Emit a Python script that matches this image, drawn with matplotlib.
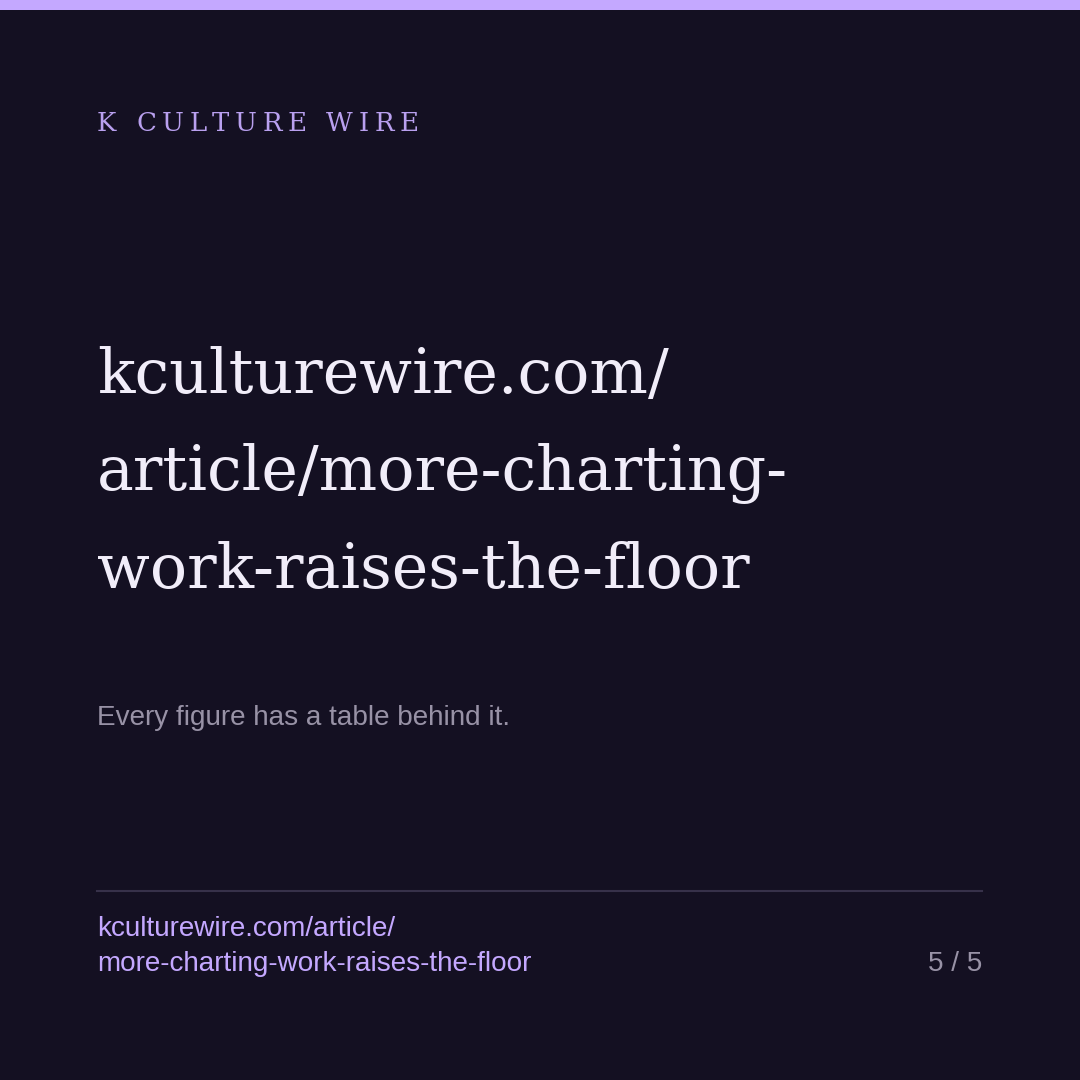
import matplotlib
matplotlib.use("Agg")
import matplotlib.pyplot as plt
from matplotlib.lines import Line2D
from matplotlib.patches import Rectangle

# Card content
brand = "K CULTURE WIRE"
title_lines = ["kculturewire.com/", "article/more-charting-", "work-raises-the-floor"]
subtitle = "Every figure has a table behind it."
footer_lines = ["kculturewire.com/article/", "more-charting-work-raises-the-floor"]
page_label = "5 / 5"

# Colours
BG = "#141022"
ACCENT = "#c4a8ff"
BRAND = "#b9a0ef"
TITLE = "#f1edf9"
MUTED = "#9892a6"
RULE = "#37314a"

W = H = 1080
fig = plt.figure(figsize=(10.8, 10.8), dpi=100, facecolor=BG)


def px(x, y):
    # pixel coords (top-left origin) -> figure fraction
    return x / W, 1 - y / H


def pt(size_px):
    return size_px * 72 / 100


# top accent bar
fig.patches.append(Rectangle(px(0, 10), 1, 10 / H, transform=fig.transFigure,
                             facecolor=ACCENT, edgecolor="none"))

serif = ["DejaVu Serif", "Liberation Serif"]
sans = ["Liberation Sans", "DejaVu Sans"]

renderer = fig.canvas.get_renderer()

# brand line with letter spacing, drawn char by char
x = 97
for ch in brand:
    t = fig.text(*px(x, 131), ch, family=serif, fontsize=pt(26), color=BRAND,
                 va="baseline", ha="left")
    w = t.get_window_extent(renderer).width
    if ch == " ":
        w = 9
    x += w + 5.5

# title, fitted to measured width of first line
probe = fig.text(0, 0, title_lines[0], family=serif, fontsize=pt(60))
w0 = probe.get_window_extent(renderer).width
probe.remove()
title_size = pt(60) * 572 / w0
for i, line in enumerate(title_lines):
    fig.text(*px(97, 393 + i * 97.5), line, family=serif, fontsize=title_size,
             color=TITLE, va="baseline", ha="left")

fig.text(*px(97, 725), subtitle, family=sans, fontsize=pt(27.9), color=MUTED,
         va="baseline", ha="left")

# separator rule
fig.lines.append(Line2D([97 / W, 982 / W], [1 - 891 / H] * 2, transform=fig.transFigure,
                        color=RULE, linewidth=1.5))

for i, line in enumerate(footer_lines):
    fig.text(*px(97, 936 + i * 35), line, family=sans, fontsize=pt(27.9),
             color=ACCENT, va="baseline", ha="left")
fig.text(*px(982, 971), page_label, family=sans, fontsize=pt(27.9), color=MUTED,
         va="baseline", ha="right")

fig.savefig("out.png", dpi=100, facecolor=BG)
